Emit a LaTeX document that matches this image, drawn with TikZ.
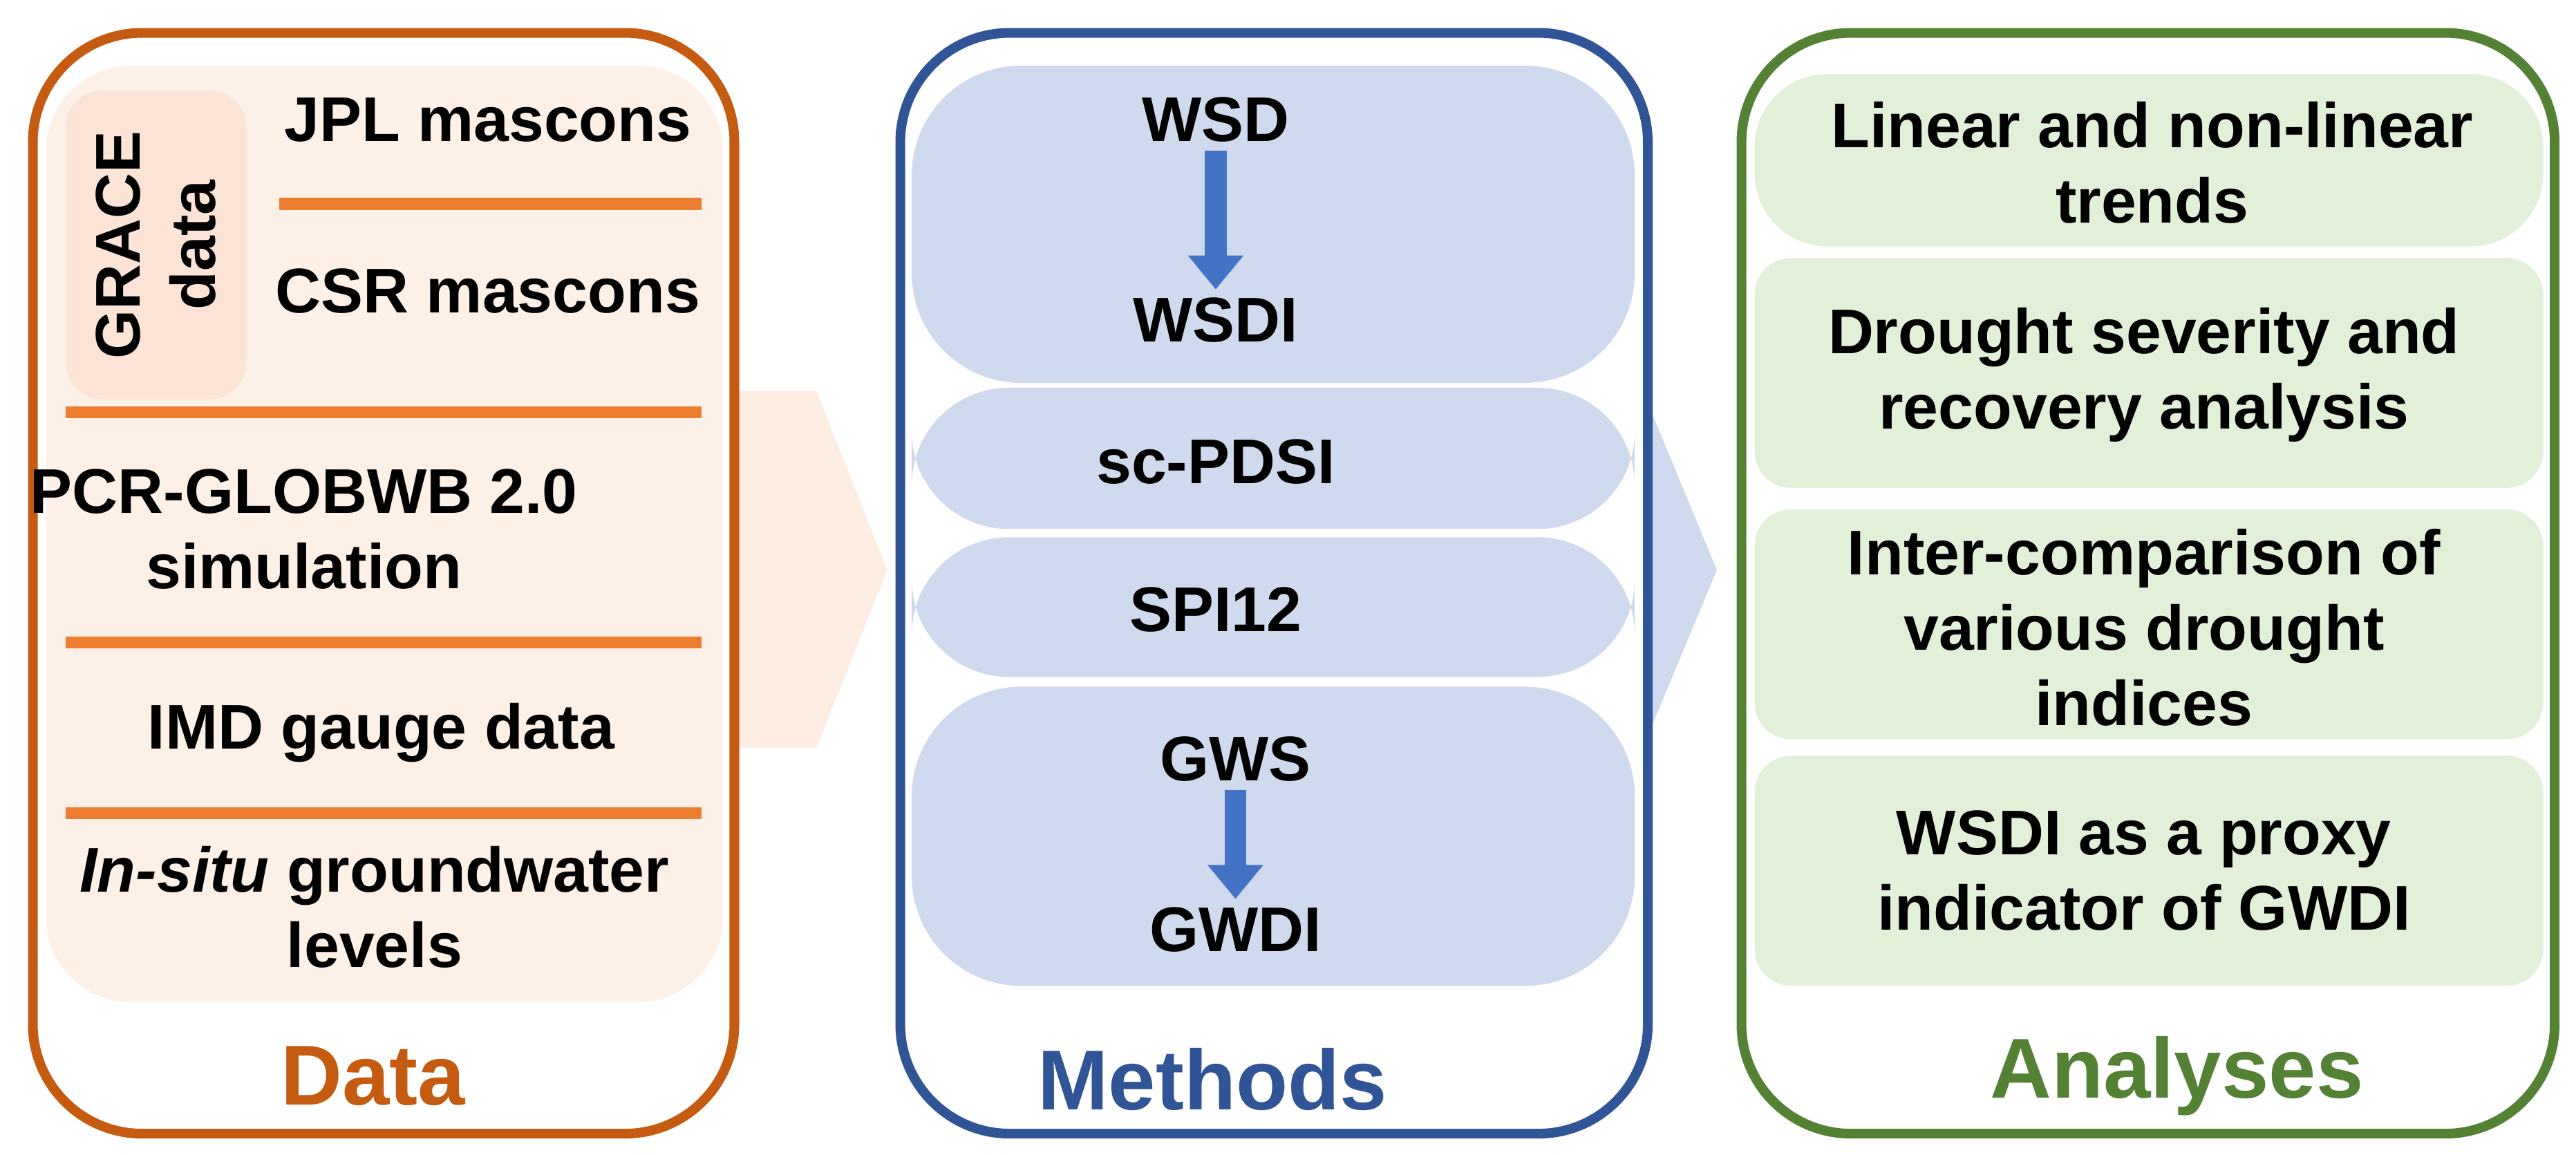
\documentclass[tikz,border=0pt]{standalone}
\usepackage{fontspec}
\setmainfont{Liberation Sans}
\usetikzlibrary{positioning,arrows.meta}
\definecolor{dataorange}{HTML}{C55A11}
\definecolor{dataline}{HTML}{ED7D31}
\definecolor{datafill}{HTML}{FDF0E7}
\definecolor{gracefill}{HTML}{FBE3D5}
\definecolor{methblue}{HTML}{2F5597}
\definecolor{methfill}{HTML}{CFDAEE}
\definecolor{arrblue}{HTML}{4472C4}
\definecolor{anagreen}{HTML}{548235}
\definecolor{anafill}{HTML}{E2EFD9}
\tikzset{
  panel/.style={line width=4pt, rounded corners=45},
  txt/.style={font=\fontsize{26}{31}\selectfont\bfseries, align=center},
  title/.style={font=\fontsize{35}{40}\selectfont\bfseries},
  sep/.style={dataline, line width=5pt},
  downarrow/.style={-{Triangle[length=14pt,width=22pt]}, arrblue, line width=9pt}
}
\begin{document}
\begin{tikzpicture}[x=0.02377cm,y=-0.02377cm]
\useasboundingbox (0,0) rectangle (1568,703);

% chevrons between panels
\fill[datafill!70!gracefill] (430,238) -- (497,238) -- (540,347) -- (497,455) -- (430,455) -- cycle;
\fill[methfill] (990,238) -- (1000,238) -- (1045,347) -- (1000,455) -- (990,455) -- cycle;

% Data panel
\draw[panel, dataorange, fill=white] (20,20) rectangle (447,690);
\fill[datafill, rounded corners=35] (28,40) rectangle (440,610);
\fill[gracefill, rounded corners=15] (40,55) rectangle (150,243);
\node[txt, rotate=90] (grace) at (95,149) {GRACE\\data};
\node[txt] (jpl) at (297,73) {JPL mascons};
\node[txt] (csr) at (297,177) {CSR mascons};
\node[txt] (pcr) at (185,322) {PCR-GLOBWB 2.0\\simulation};
\node[txt] (imd) at (232,446) {IMD gauge data};
\node[txt] (insitu) at (228,552) {\textit{In-situ} groundwater\\levels};
\draw[sep] (170,124) -- (427,124);
\draw[sep] (40,251) -- (427,251);
\draw[sep] (40,391) -- (427,391);
\draw[sep] (40,495) -- (427,495);
\node[title, dataorange] (datalbl) at (227,655) {Data};

% Methods panel
\draw[panel, methblue, fill=white] (548,20) rectangle (1003,690);
\fill[methfill, rounded corners=45] (555,40) rectangle (995,233);
\fill[methfill, rounded corners=40] (555,236) rectangle (995,322);
\fill[methfill, rounded corners=40] (555,327) rectangle (995,412);
\fill[methfill, rounded corners=45] (555,418) rectangle (995,600);
\node[txt] (wsd) at (740,73) {WSD};
\node[txt] (wsdi) at (740,195) {WSDI};
\node[txt] (pdsi) at (740,281) {sc-PDSI};
\node[txt] (spi) at (740,371) {SPI12};
\node[txt] (gws) at (752,462) {GWS};
\node[txt] (gwdi) at (752,566) {GWDI};
\draw[downarrow] (wsd) -- (wsdi);
\draw[downarrow] (gws) -- (gwdi);
\node[title, methblue] (methlbl) at (738,657) {Methods};

% Analyses panel
\draw[panel, anagreen, fill=white] (1060,20) rectangle (1555,690);
\fill[anafill, rounded corners=30] (1068,45) rectangle (1548,150);
\fill[anafill, rounded corners=15] (1068,157) rectangle (1548,297);
\fill[anafill, rounded corners=15] (1068,310) rectangle (1548,450);
\fill[anafill, rounded corners=15] (1068,460) rectangle (1548,600);
\node[txt] (trend) at (1310,99) {Linear and non-linear\\trends};
\node[txt] (sev) at (1305,228) {Drought severity and\\recovery analysis};
\node[txt] (inter) at (1305,382) {Inter-comparison of\\various drought\\indices};
\node[txt] (proxy) at (1305,530) {WSDI as a proxy\\indicator of GWDI};
\node[title, anagreen] (analbl) at (1325,655) {Analyses};
\end{tikzpicture}
\end{document}
